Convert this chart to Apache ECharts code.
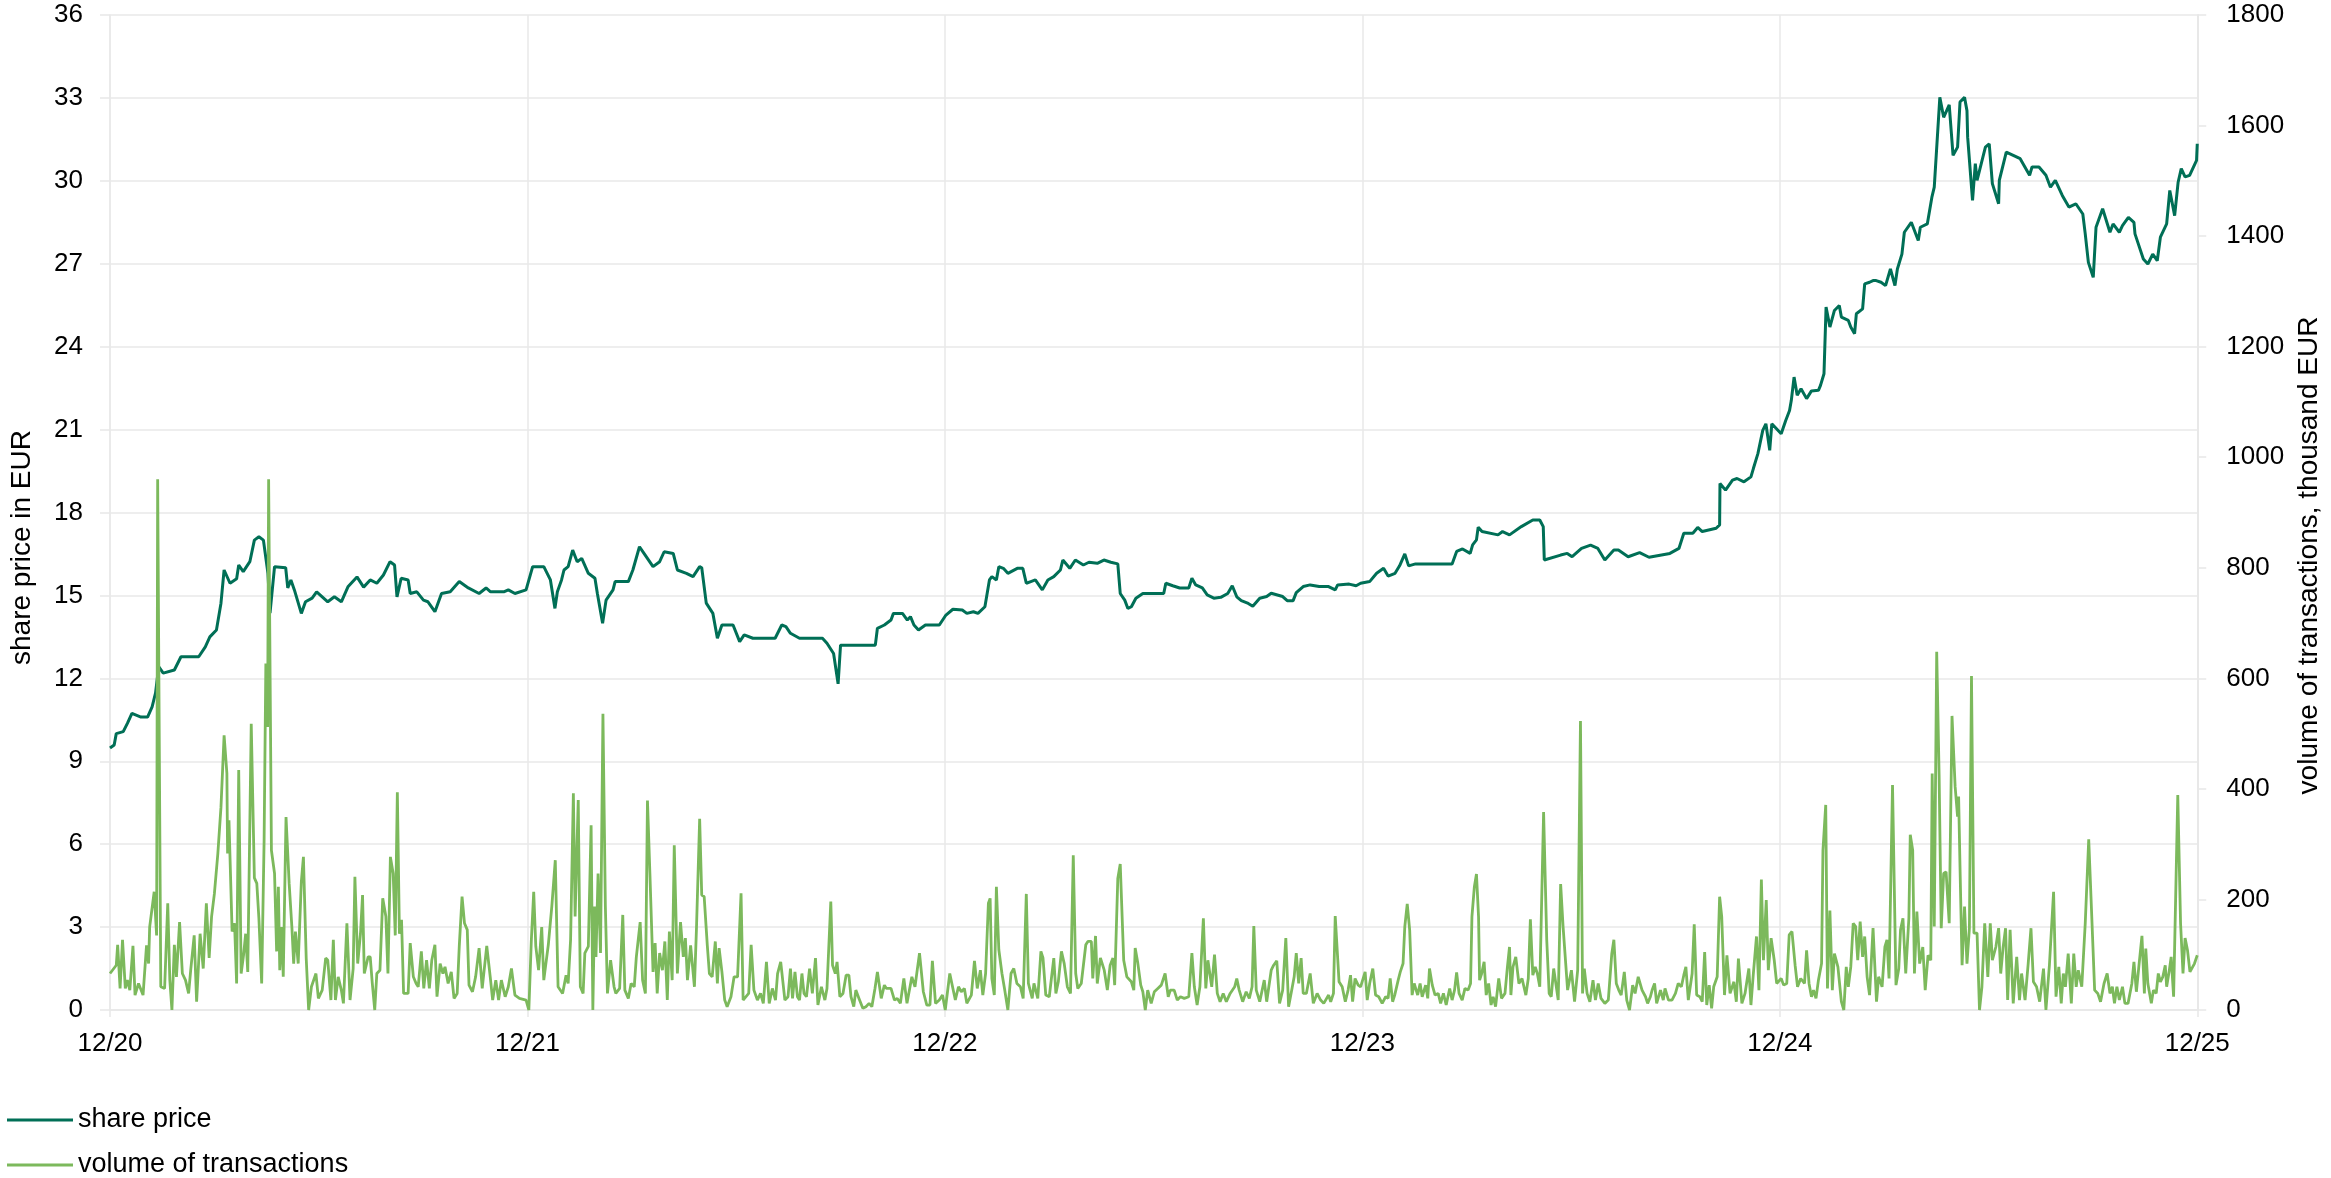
<!DOCTYPE html>
<html>
<head>
<meta charset="utf-8">
<script src="https://cdn.jsdelivr.net/npm/echarts@6/dist/echarts.min.js"></script>
<style>
html,body{margin:0;padding:0;background:#fff;}
#chart{width:2331px;height:1178px;}
</style>
</head>
<body>
<div id="chart"></div>
<script>
// x values: months since 12/2020
const xTickLabels = ['12/20','12/21','12/22','12/23','12/24','12/25'];
const seriesNames = ['share price', 'volume of transactions'];

// share price in EUR: [month, price]
const priceData = [
[0,9.48],[0.12,9.59],[0.18,10.0],[0.38,10.07],[0.50,10.37],[0.63,10.73],[0.89,10.6],[1.08,10.6],[1.21,10.97],[1.31,11.47],
[1.40,12.42],[1.53,12.19],[1.85,12.3],[2.04,12.78],[2.36,12.78],[2.55,12.78],[2.74,13.14],[2.87,13.5],[3.06,13.75],[3.19,14.72],
[3.28,15.92],[3.45,15.44],[3.64,15.6],[3.70,16.1],[3.83,15.86],[4.02,16.22],[4.15,17.0],[4.28,17.12],[4.41,17.0],[4.54,15.8],
[4.60,14.36],[4.73,16.04],[5.05,16.0],[5.11,15.27],[5.20,15.56],[5.30,15.2],[5.50,14.35],[5.62,14.77],[5.81,14.9],[5.94,15.13],
[6.26,14.77],[6.45,14.95],[6.65,14.77],[6.84,15.31],[7.10,15.67],[7.29,15.3],[7.48,15.56],[7.67,15.44],[7.86,15.74],[8.05,16.22],
[8.18,16.1],[8.25,14.95],[8.37,15.62],[8.57,15.56],[8.63,15.07],[8.82,15.13],[9.01,14.83],[9.14,14.77],[9.34,14.41],[9.53,15.07],
[9.78,15.13],[10.04,15.5],[10.30,15.27],[10.61,15.07],[10.81,15.27],[10.94,15.13],[11.32,15.13],[11.45,15.2],[11.64,15.07],[11.96,15.2],
[12.15,16.04],[12.47,16.04],[12.66,15.56],[12.79,14.53],[12.86,15.13],[12.98,15.56],[13.05,15.92],[13.17,16.04],[13.30,16.64],[13.43,16.22],
[13.56,16.34],[13.75,15.8],[13.94,15.62],[14.01,15.07],[14.16,13.99],[14.26,14.83],[14.46,15.2],[14.52,15.5],[14.90,15.5],[15.03,15.92],
[15.22,16.76],[15.35,16.52],[15.61,16.04],[15.80,16.22],[15.93,16.58],[16.19,16.52],[16.31,15.92],[16.57,15.8],[16.76,15.68],[16.95,16.04],
[17.01,16.0],[17.14,14.72],[17.33,14.35],[17.46,13.45],[17.59,13.93],[17.91,13.93],[18.10,13.33],[18.23,13.57],[18.48,13.45],[18.87,13.45],
[19.12,13.45],[19.31,13.93],[19.43,13.87],[19.56,13.63],[19.82,13.45],[20.48,13.45],[20.61,13.27],[20.80,12.9],[20.93,11.8],[21.00,13.2],
[22.00,13.2],[22.06,13.81],[22.26,13.93],[22.45,14.11],[22.52,14.35],[22.78,14.35],[22.92,14.11],[23.01,14.23],[23.11,13.93],[23.24,13.75],
[23.44,13.93],[23.84,13.93],[24.03,14.29],[24.23,14.5],[24.50,14.47],[24.63,14.35],[24.82,14.41],[24.95,14.35],[25.15,14.59],[25.28,15.56],
[25.35,15.68],[25.48,15.56],[25.55,16.04],[25.68,15.98],[25.81,15.8],[26.08,15.98],[26.24,15.98],[26.34,15.44],[26.47,15.5],[26.60,15.56],
[26.80,15.2],[26.96,15.56],[27.13,15.68],[27.32,15.92],[27.39,16.28],[27.59,15.98],[27.75,16.28],[27.98,16.1],[28.14,16.2],[28.38,16.16],
[28.57,16.28],[28.77,16.2],[28.97,16.14],[29.04,15.07],[29.17,14.83],[29.26,14.53],[29.36,14.59],[29.49,14.9],[29.69,15.07],[30.29,15.07],
[30.35,15.44],[30.55,15.35],[30.75,15.27],[31.01,15.27],[31.10,15.62],[31.21,15.38],[31.40,15.27],[31.54,15.02],[31.73,14.9],[31.93,14.93],
[32.13,15.07],[32.26,15.35],[32.39,14.95],[32.52,14.81],[32.72,14.71],[32.85,14.61],[33.05,14.9],[33.25,14.96],[33.38,15.08],[33.71,14.96],
[33.84,14.81],[34.01,14.81],[34.10,15.1],[34.30,15.32],[34.50,15.38],[34.76,15.32],[35.03,15.32],[35.22,15.2],[35.29,15.38],[35.62,15.41],
[35.82,15.35],[35.95,15.44],[36.21,15.5],[36.41,15.8],[36.61,15.98],[36.74,15.7],[36.94,15.8],[37.07,16.07],[37.22,16.5],[37.33,16.07],
[37.53,16.14],[38.58,16.14],[38.71,16.59],[38.88,16.68],[39.10,16.52],[39.17,16.83],[39.28,17.01],[39.33,17.47],[39.44,17.31],[39.90,17.19],
[40.03,17.31],[40.23,17.19],[40.57,17.49],[40.90,17.73],[41.10,17.73],[41.20,17.49],[41.23,16.28],[41.70,16.46],[41.89,16.52],[42.03,16.40],
[42.30,16.70],[42.56,16.82],[42.77,16.70],[42.97,16.28],[43.23,16.64],[43.36,16.64],[43.64,16.40],[43.97,16.55],[44.24,16.38],[44.84,16.52],
[45.10,16.70],[45.24,17.25],[45.50,17.25],[45.64,17.46],[45.77,17.31],[46.17,17.43],[46.27,17.55],[46.28,19.05],[46.44,18.81],[46.64,19.17],
[46.77,19.23],[46.97,19.11],[47.17,19.29],[47.24,19.59],[47.37,20.13],[47.51,20.97],[47.60,21.21],[47.71,20.25],[47.77,21.21],[48.04,20.85],
[48.17,21.33],[48.28,21.69],[48.33,22.05],[48.41,22.9],[48.50,22.24],[48.61,22.48],[48.77,22.12],[48.91,22.40],[49.11,22.42],[49.17,22.6],
[49.27,23.02],[49.33,25.43],[49.44,24.71],[49.57,25.31],[49.71,25.49],[49.77,25.07],[49.97,24.95],[50.04,24.71],[50.15,24.47],[50.20,25.19],
[50.38,25.37],[50.44,26.27],[50.58,26.33],[50.68,26.39],[50.77,26.39],[50.91,26.33],[51.04,26.21],[51.18,26.81],[51.31,26.21],[51.38,26.81],
[51.51,27.35],[51.58,28.14],[51.78,28.5],[51.98,27.84],[52.04,28.32],[52.24,28.44],[52.37,29.4],[52.44,29.77],[52.60,33.02],[52.71,32.3],
[52.87,32.75],[52.98,30.92],[53.11,31.22],[53.18,32.85],[53.31,33.02],[53.38,32.54],[53.40,31.58],[53.54,29.29],[53.62,30.62],[53.67,30.02],
[53.91,31.22],[54.02,31.34],[54.11,29.9],[54.29,29.17],[54.31,30.02],[54.51,31.04],[54.71,30.92],[54.91,30.8],[55.18,30.2],[55.25,30.5],
[55.45,30.5],[55.65,30.2],[55.78,29.77],[55.92,30.02],[56.12,29.47],[56.31,29.05],[56.51,29.17],[56.71,28.8],[56.78,28.08],[56.87,27.05],
[57.01,26.51],[57.09,28.32],[57.28,28.99],[57.49,28.14],[57.58,28.44],[57.76,28.14],[57.85,28.38],[58.02,28.68],[58.18,28.50],[58.21,28.08],
[58.45,27.17],[58.58,26.99],[58.72,27.35],[58.85,27.11],[58.94,27.96],[59.12,28.44],[59.21,29.65],[59.35,28.74],[59.45,29.95],[59.54,30.44],
[59.65,30.14],[59.78,30.2],[59.98,30.74],[60,31.34]
];

// volume of transactions, thousand EUR: [month, volume]
const volumeData = [
[0,66],[0.18,81],[0.22,118],[0.29,39],[0.36,127],[0.44,39],[0.50,54],[0.57,36],[0.66,116],[0.72,27],[0.82,48],[0.95,27],[1.05,117],[1.11,84],[1.14,150],[1.27,214],[1.34,135],[1.37,960],[1.46,42],[1.57,39],
[1.66,193],[1.72,54],[1.78,0],[1.85,118],[1.91,60],[2.00,159],[2.08,66],[2.17,54],[2.26,30],[2.32,72],[2.42,135],[2.49,15],[2.59,138],[2.68,75],[2.77,193],[2.85,94],[2.92,169],[3.00,210],[3.10,283],[3.19,367],
[3.28,497],[3.36,428],[3.38,283],[3.42,343],[3.51,142],[3.58,157],[3.64,48],[3.70,434],[3.77,66],[3.84,100],[3.90,138],[3.96,69],[4.06,518],[4.15,239],[4.22,229],[4.28,166],[4.36,48],[4.43,307],[4.48,627],[4.53,512],
[4.56,960],[4.64,289],[4.73,247],[4.79,106],[4.84,223],[4.88,72],[4.94,150],[4.98,60],[5.06,349],[5.15,229],[5.23,148],[5.28,84],[5.33,142],[5.41,84],[5.50,232],[5.56,277],[5.64,94],[5.71,0],[5.79,42],[5.92,66],
[5.99,21],[6.10,36],[6.20,94],[6.26,90],[6.35,18],[6.42,127],[6.48,18],[6.56,60],[6.65,36],[6.71,12],[6.81,157],[6.90,18],[6.99,75],[7.04,241],[7.12,84],[7.20,138],[7.26,208],[7.31,66],[7.42,96],[7.48,96],
[7.54,48],[7.61,0],[7.67,66],[7.76,72],[7.84,202],[7.93,169],[7.99,66],[8.06,277],[8.14,247],[8.20,135],[8.26,394],[8.32,138],[8.38,163],[8.44,30],[8.57,30],[8.63,121],[8.72,60],[8.80,48],[8.86,42],[8.95,106],
[9.02,39],[9.10,90],[9.18,39],[9.25,90],[9.34,118],[9.40,24],[9.49,84],[9.57,66],[9.63,78],[9.72,48],[9.81,69],[9.89,21],[9.98,30],[10.04,115],[10.12,205],[10.19,157],[10.27,145],[10.32,45],[10.42,33],[10.51,60],
[10.61,112],[10.70,39],[10.83,116],[10.93,60],[11.00,18],[11.09,54],[11.17,18],[11.25,54],[11.36,24],[11.45,42],[11.54,75],[11.64,27],[11.77,21],[11.96,18],[12.04,0],[12.11,124],[12.18,214],[12.24,115],[12.32,72],[12.41,150],
[12.47,54],[12.53,84],[12.60,118],[12.70,187],[12.80,271],[12.88,42],[13.01,30],[13.11,63],[13.17,48],[13.24,127],[13.32,392],[13.37,169],[13.46,380],[13.52,42],[13.60,30],[13.65,103],[13.75,115],[13.83,334],[13.88,0],[13.93,187],
[13.97,96],[14.03,247],[14.10,103],[14.17,536],[14.24,187],[14.30,30],[14.39,90],[14.49,42],[14.54,30],[14.65,39],[14.74,172],[14.80,36],[14.90,21],[14.98,48],[15.07,42],[15.13,96],[15.24,159],[15.31,54],[15.39,30],[15.45,379],
[15.52,247],[15.61,69],[15.67,121],[15.73,30],[15.80,103],[15.88,72],[15.95,124],[16.02,18],[16.08,142],[16.16,54],[16.22,298],[16.31,66],[16.40,159],[16.48,96],[16.54,130],[16.60,54],[16.69,117],[16.80,42],[16.86,150],[16.95,346],
[17.01,208],[17.08,205],[17.17,117],[17.23,66],[17.31,60],[17.40,124],[17.46,48],[17.51,112],[17.59,69],[17.67,18],[17.74,6],[17.85,24],[17.94,60],[18.04,60],[18.14,211],[18.20,18],[18.36,30],[18.43,118],[18.51,36],[18.61,18],
[18.70,30],[18.78,12],[18.87,87],[18.95,12],[19.04,39],[19.13,18],[19.19,66],[19.28,87],
[19.40,18],[19.49,24],[19.56,75],[19.62,21],[19.69,69],[19.76,24],[19.82,18],[19.89,66],[19.95,30],[20.02,24],[20.11,75],[20.19,30],[20.28,94],[20.35,9],[20.45,42],[20.55,18],[20.61,39],[20.72,196],[20.77,81],[20.85,66],
[20.90,87],[20.98,24],[21.07,30],[21.16,63],[21.24,63],[21.30,24],[21.38,6],[21.44,36],[21.53,21],[21.64,3],[21.73,6],[21.82,12],[21.90,6],[21.99,39],[22.06,69],[22.17,21],[22.26,45],[22.32,39],[22.45,39],[22.55,18],
[22.63,21],[22.72,12],[22.82,57],[22.91,12],[23.05,60],[23.14,42],[23.27,103],[23.38,33],[23.48,9],[23.57,9],[23.64,89],[23.73,12],[23.84,18],[23.93,27],[24.01,0],[24.14,66],[24.23,39],[24.30,18],[24.39,42],[24.47,33],
[24.56,39],[24.63,12],[24.76,27],[24.85,89],[24.93,39],[25.02,72],[25.09,27],[25.17,66],[25.25,193],[25.30,202],[25.35,57],[25.42,27],[25.48,223],[25.55,109],[25.64,66],[25.72,36],[25.81,0],[25.90,66],[25.98,75],[26.07,48],
[26.17,42],[26.25,21],[26.34,210],[26.40,48],[26.51,21],[26.56,48],[26.67,21],[26.76,106],[26.82,94],[26.90,27],[27.00,24],[27.13,94],[27.19,30],[27.26,51],[27.35,106],[27.43,84],[27.52,42],[27.61,30],[27.69,280],[27.76,66],
[27.82,39],[27.92,48],[28.05,118],[28.11,124],[28.21,124],[28.25,57],[28.33,134],[28.38,48],[28.47,94],[28.58,72],[28.67,36],[28.75,81],[28.83,94],[28.88,45],[28.97,238],[29.04,264],[29.14,90],[29.23,60],[29.36,51],[29.43,36],
[29.47,112],[29.54,87],[29.63,45],[29.69,33],[29.76,0],[29.83,36],[29.93,12],[30.02,33],[30.12,39],[30.22,45],[30.33,66],[30.42,24],[30.48,36],[30.59,36],[30.68,18],[30.77,24],[30.88,21],[31.01,24],[31.10,103],[31.17,42],
[31.25,9],[31.33,42],[31.43,166],[31.50,39],[31.56,90],[31.67,42],[31.75,100],[31.83,30],[31.91,15],[32.00,30],[32.09,15],[32.20,30],[32.33,42],[32.39,57],[32.46,36],[32.56,15],[32.66,33],[32.75,21],[32.83,42],[32.88,152],
[32.95,36],[33.05,15],[33.18,54],[33.25,15],[33.38,72],[33.45,81],[33.54,89],[33.62,12],[33.71,36],[33.80,130],[33.88,6],[33.97,36],[34.04,60],[34.10,103],[34.17,48],[34.24,94],[34.30,30],[34.39,30],[34.50,66],[34.59,12],
[34.70,30],[34.80,18],[34.89,12],[35.03,27],[35.09,15],[35.17,30],[35.22,170],[35.33,51],[35.42,42],[35.51,15],[35.59,36],[35.66,63],[35.72,15],[35.79,57],[35.88,45],[35.95,42],[36.08,69],[36.14,18],[36.21,48],[36.30,75],
[36.38,27],[36.47,24],[36.57,12],[36.67,24],[36.74,21],[36.80,57],[36.87,15],[36.93,27],[37.03,54],[37.09,69],[37.17,84],[37.22,151],[37.29,192],[37.36,145],[37.43,27],[37.49,48],[37.59,27],[37.66,48],[37.72,24],[37.82,45],
[37.88,21],[37.93,75],[38.01,45],[38.09,27],[38.18,30],[38.25,12],[38.33,30],[38.41,9],[38.51,39],[38.58,18],[38.65,36],[38.71,68],[38.78,30],[38.87,18],[38.95,39],[39.04,36],[39.11,48],[39.15,169],[39.22,223],[39.28,246],
[39.34,169],[39.37,54],
[39.43,66],[39.50,87],[39.56,27],[39.63,48],[39.70,9],[39.76,24],[39.83,6],[39.92,57],[40.00,21],[40.10,30],[40.17,78],[40.23,114],[40.27,27],[40.33,78],[40.41,96],[40.50,48],[40.59,57],[40.70,27],[40.77,57],[40.83,164],
[40.90,63],[40.97,78],[41.03,66],[41.10,42],[41.21,358],[41.30,127],[41.37,30],[41.43,24],[41.50,75],[41.63,18],[41.70,228],[41.77,151],[41.90,36],[42.01,72],[42.10,15],[42.19,72],[42.27,523],[42.33,30],[42.38,75],[42.46,30],
[42.54,15],[42.63,54],[42.70,18],[42.78,48],[42.86,21],[42.97,12],[43.07,18],[43.17,102],[43.23,127],[43.30,48],[43.37,36],[43.44,27],[43.53,69],[43.60,18],[43.68,0],[43.77,45],[43.84,30],[43.93,60],[44.04,36],[44.14,24],
[44.20,12],[44.28,24],[44.33,36],[44.40,48],[44.46,12],[44.57,36],[44.65,18],[44.70,39],[44.80,18],[44.90,18],[45.00,30],[45.08,48],[45.17,42],[45.24,63],[45.30,78],[45.37,18],[45.48,66],[45.54,155],[45.61,27],[45.70,24],
[45.77,15],[45.84,105],[45.90,9],[45.97,45],[46.04,3],[46.10,42],[46.20,60],[46.27,205],[46.33,169],[46.41,27],[46.48,99],[46.57,30],[46.68,51],[46.75,15],[46.81,93],[46.91,12],[47.00,30],[47.11,75],[47.17,9],[47.24,66],
[47.33,133],[47.40,36],[47.47,236],[47.53,90],[47.61,199],[47.67,72],[47.75,130],[47.84,90],[47.91,48],[48.04,57],[48.11,45],[48.20,48],[48.27,136],[48.35,142],[48.44,81],[48.51,42],[48.60,57],[48.71,48],[48.77,108],[48.84,48],
[48.91,24],[48.97,36],[49.04,21],[49.11,54],[49.20,84],[49.24,289],[49.32,371],[49.37,39],[49.44,180],[49.51,36],[49.57,102],[49.67,78],[49.77,15],[49.84,0],[49.91,78],[49.97,42],[50.04,78],[50.11,157],[50.18,151],[50.24,90],
[50.31,160],[50.38,96],[50.44,133],[50.51,60],[50.58,27],[50.68,148],[50.78,15],[50.84,60],[50.94,42],[51.02,114],[51.08,127],[51.14,57],[51.24,407],[51.34,45],[51.42,75],[51.47,145],[51.54,166],[51.62,66],[51.71,166],[51.75,317],
[51.82,289],[51.87,66],[51.94,178],[52.02,84],[52.11,114],[52.18,36],[52.26,99],[52.34,90],[52.38,428],[52.44,151],[52.51,648],[52.58,422],[52.64,148],[52.71,247],[52.78,250],[52.87,157],[52.95,532],[53.04,404],[53.11,350],[53.14,386],
[53.18,259],[53.24,81],[53.31,187],[53.38,84],[53.45,148],[53.51,604],[53.58,139],[53.67,139],[53.74,0],[53.81,42],[53.89,157],[53.98,60],[54.05,157],[54.11,90],[54.21,114],[54.29,148],[54.35,66],[54.42,114],[54.49,148],[54.55,18],
[54.62,145],[54.71,12],[54.81,96],[54.89,18],[54.95,66],[55.05,18],[55.14,84],[55.22,148],[55.29,51],[55.38,42],[55.47,15],[55.58,75],[55.65,0],[55.75,81],[55.87,214],[55.94,24],[56.02,78],[56.09,12],[56.15,66],[56.21,42],
[56.29,102],[56.38,12],[56.45,102],[56.52,42],[56.58,72],[56.68,42],[56.78,157],[56.88,309],[56.96,181],[57.05,36],[57.14,30],[57.22,15],[57.32,48],[57.41,66],[57.49,30],[57.56,42],[57.62,12],[57.69,42],[57.76,18],[57.85,42],
[57.92,12],[58.01,12],[58.12,48],[58.18,87],[58.25,33],[58.32,78],[58.41,134],[58.48,30],[58.52,111],[58.58,48],[58.68,12],[58.74,36],[58.82,30],[58.88,66],[58.94,51],[59.01,60],[59.08,81],[59.12,42],[59.19,69],[59.25,96],
[59.32,24],[59.44,389],[59.52,157],[59.59,66],[59.65,130],[59.72,108],[59.79,69],[59.92,84],[60,99]
];

const FONT = '"Liberation Sans", Arial, sans-serif';
const gridColor = '#e8e8e8';
const chart = echarts.init(document.getElementById('chart'), null, {renderer: 'canvas'});
chart.setOption({
  animation: false,
  backgroundColor: '#ffffff',
  textStyle: {fontFamily: FONT},
  grid: {left: 107, right: 131, top: 15, bottom: 168, containLabel: false},
  legend: {
    orient: 'vertical', left: 7, top: 1105, height: 200, padding: 0,
    itemWidth: 66, itemHeight: 3, itemGap: 15, icon: 'rect',
    textStyle: {fontSize: 27, lineHeight: 30, color: '#000', fontFamily: FONT},
    data: seriesNames
  },
  xAxis: {
    type: 'value', min: 0, max: 60, interval: 12,
    axisLine: {show: true, lineStyle: {color: gridColor, width: 1.5}},
    axisTick: {show: true, length: 7, lineStyle: {color: gridColor, width: 1.5}},
    axisLabel: {fontSize: 26, color: '#000', margin: 21, fontFamily: FONT,
      formatter: v => xTickLabels[Math.round(v / 12)]},
    splitLine: {show: true, lineStyle: {color: gridColor, width: 1.5}}
  },
  yAxis: [{
    type: 'value', min: 0, max: 36, interval: 3, position: 'left',
    name: 'share price in EUR', nameLocation: 'middle', nameGap: 74, nameRotate: 90,
    nameTextStyle: {fontSize: 28, color: '#000', fontFamily: FONT, padding: [0, 70, 0, 0]},
    axisLine: {show: true, lineStyle: {color: gridColor, width: 1.5}},
    axisTick: {show: true, length: 10, lineStyle: {color: gridColor, width: 1.5}},
    axisLabel: {fontSize: 26, color: '#000', margin: 27, fontFamily: FONT},
    splitLine: {show: true, lineStyle: {color: gridColor, width: 1.5}}
  }, {
    type: 'value', min: 0, max: 1800, interval: 200, position: 'right',
    name: 'volume of transactions, thousand EUR', nameLocation: 'middle', nameGap: 83, nameRotate: 90,
    nameTextStyle: {fontSize: 28, color: '#000', fontFamily: FONT, padding: [0, 86, 0, 0]},
    axisLine: {show: true, lineStyle: {color: gridColor, width: 2}},
    axisTick: {show: true, length: 9, lineStyle: {color: gridColor, width: 1.5}},
    axisLabel: {fontSize: 26, color: '#000', margin: 29, fontFamily: FONT,
      formatter: v => String(v)},
    splitLine: {show: false}
  }],
  series: [{
    name: seriesNames[0], type: 'line', yAxisIndex: 0, showSymbol: false, symbol: 'none',
    lineStyle: {color: '#006f56', width: 3}, itemStyle: {color: '#006f56'},
    data: priceData
  }, {
    name: seriesNames[1], type: 'line', yAxisIndex: 1, showSymbol: false, symbol: 'none',
    lineStyle: {color: '#7cb95c', width: 2.8}, itemStyle: {color: '#7cb95c'},
    data: volumeData
  }]
});
</script>
</body>
</html>
